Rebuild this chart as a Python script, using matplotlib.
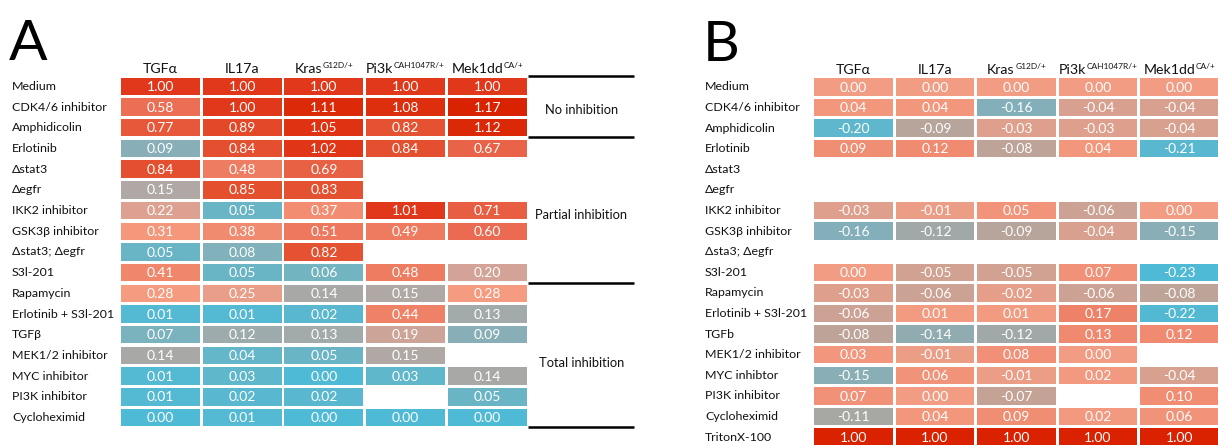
import numpy as np
import matplotlib
matplotlib.use("Agg")
import matplotlib.pyplot as plt
from matplotlib.colors import LinearSegmentedColormap, Normalize
from matplotlib.patches import Rectangle
from matplotlib.transforms import offset_copy

plt.rcParams['font.family'] = ['Lato', 'DejaVu Sans']

nan = np.nan
columns = ["TGFα", "IL17a", "Kras", "Pi3k", "Mek1dd"]
column_sups = ["", "", "G12D/+", "CAH1047R/+", "CA/+"]

rows_a = ["Medium", "CDK4/6 inhibitor", "Amphidicolin", "Erlotinib", "Δstat3", "Δegfr",
          "IKK2 inhibitor", "GSK3β inhibitor", "Δstat3; Δegfr", "S3l-201", "Rapamycin",
          "Erlotinib + S3l-201", "TGFβ", "MEK1/2 inhibitor", "MYC inhibitor",
          "PI3K inhibitor", "Cycloheximid"]
values_a = [
    [1.00, 1.00, 1.00, 1.00, 1.00],
    [0.58, 1.00, 1.11, 1.08, 1.17],
    [0.77, 0.89, 1.05, 0.82, 1.12],
    [0.09, 0.84, 1.02, 0.84, 0.67],
    [0.84, 0.48, 0.69, nan, nan],
    [0.15, 0.85, 0.83, nan, nan],
    [0.22, 0.05, 0.37, 1.01, 0.71],
    [0.31, 0.38, 0.51, 0.49, 0.60],
    [0.05, 0.08, 0.82, nan, nan],
    [0.41, 0.05, 0.06, 0.48, 0.20],
    [0.28, 0.25, 0.14, 0.15, 0.28],
    [0.01, 0.01, 0.02, 0.44, 0.13],
    [0.07, 0.12, 0.13, 0.19, 0.09],
    [0.14, 0.04, 0.05, 0.15, nan],
    [0.01, 0.03, 0.00, 0.03, 0.14],
    [0.01, 0.02, 0.02, nan, 0.05],
    [0.00, 0.01, 0.00, 0.00, 0.00],
]

rows_b = ["Medium", "CDK4/6 inhibitor", "Amphidicolin", "Erlotinib", "Δstat3", "Δegfr",
          "IKK2 inhibitor", "GSK3β inhibitor", "Δsta3; Δegfr", "S3l-201", "Rapamycin",
          "Erlotinib + S3l-201", "TGFb", "MEK1/2 inhibitor", "MYC inhibtor",
          "PI3K inhibitor", "Cycloheximid", "TritonX-100"]
values_b = [
    [0.00, 0.00, 0.00, 0.00, 0.00],
    [0.04, 0.04, -0.16, -0.04, -0.04],
    [-0.20, -0.09, -0.03, -0.03, -0.04],
    [0.09, 0.12, -0.08, 0.04, -0.21],
    [nan, nan, nan, nan, nan],
    [nan, nan, nan, nan, nan],
    [-0.03, -0.01, 0.05, -0.06, 0.00],
    [-0.16, -0.12, -0.09, -0.04, -0.15],
    [nan, nan, nan, nan, nan],
    [0.00, -0.05, -0.05, 0.07, -0.23],
    [-0.03, -0.06, -0.02, -0.06, -0.08],
    [-0.06, 0.01, 0.01, 0.17, -0.22],
    [-0.08, -0.14, -0.12, 0.13, 0.12],
    [0.03, -0.01, 0.08, 0.00, nan],
    [-0.15, 0.06, -0.01, 0.02, -0.04],
    [0.07, 0.00, -0.07, nan, 0.10],
    [-0.11, 0.04, 0.09, 0.02, 0.06],
    [1.00, 1.00, 1.00, 1.00, 1.00],
]

groups_a = ["No inhibition", "Partial inhibition", "Total inhibition"]

# colour scales
stops_a = [(0.00, "#4EBAD5"), (0.05, "#6CB5C4"), (0.09, "#8AAFB7"), (0.14, "#AAA9A6"),
           (0.20, "#D4A395"), (0.28, "#F59B80"), (0.45, "#EF8064"), (0.60, "#EA6B52"),
           (0.84, "#E4502F"), (1.00, "#E1381B"), (1.17, "#D92300")]
stops_b = [(-0.23, "#4EBAD5"), (-0.20, "#5FB7CD"), (-0.16, "#84AFB8"), (-0.12, "#A3A8A5"),
           (-0.08, "#BEA398"), (-0.04, "#D9A08E"), (0.00, "#F39C82"), (0.17, "#EE8268"),
           (1.00, "#DA2200")]


def make_cmap(stops):
    lo, hi = stops[0][0], stops[-1][0]
    cm = LinearSegmentedColormap.from_list(
        "c", [((v - lo) / (hi - lo), c) for v, c in stops])
    return cm, Normalize(lo, hi)


W, H = 1218, 445
fig = plt.figure(figsize=(W / 100, H / 100), dpi=100)
renderer = fig.canvas.get_renderer()


def make_ax(x0, xp, y0, yp):
    ax = fig.add_axes([0, 0, 1, 1])
    ax.set_xlim((0 - x0) / xp, (W - x0) / xp)
    ax.set_ylim((H - y0) / yp, (0 - y0) / yp)
    ax.axis("off")
    ax.patch.set_alpha(0)
    return ax


def header(ax, x, y, base, sup, fs=10.2, sfs=6.0, raise_px=5.0):
    t1 = ax.text(x, y, base, ha="left", va="baseline", fontsize=fs, color="#111111")
    w1 = t1.get_window_extent(renderer).width
    if sup:
        t2 = ax.text(x, y, sup, ha="left", va="baseline", fontsize=sfs, color="#111111")
        w2 = t2.get_window_extent(renderer).width
    else:
        t2, w2 = None, 0.0
    total = w1 + w2 + (0.5 if sup else 0)
    t1.set_transform(offset_copy(ax.transData, fig, x=-total / 2, y=0, units="dots"))
    if t2 is not None:
        t2.set_transform(offset_copy(ax.transData, fig, x=-total / 2 + w1 + 0.5,
                                     y=raise_px, units="dots"))


def draw_panel(ax, rows, values, stops, label_x, letter, letter_x):
    cm, norm = make_cmap(stops)
    cw, ch = 0.965, 0.84
    for i, r in enumerate(rows):
        ax.text(label_x, i, r, ha="left", va="center", fontsize=8.9, color="#111111")
        for j, v in enumerate(values[i]):
            if np.isnan(v):
                continue
            ax.add_patch(Rectangle((j - cw / 2, i - ch / 2), cw, ch,
                                   facecolor=cm(norm(v)), edgecolor="none"))
            ax.text(j, i + 0.03, f"{v:.2f}", ha="center", va="center",
                    fontsize=10, color="white")
    for j, (c, s) in enumerate(zip(columns, column_sups)):
        header(ax, j, -0.63, c, s)
    ax.text(letter_x, -1.25, letter, ha="left", va="baseline", fontsize=41, color="black")


ax_a = make_ax(160.5, 81.7, 86.35, 20.7)
draw_panel(ax_a, rows_a, values_a, stops_a, (12 - 160.5) / 81.7, "A", (9 - 160.5) / 81.7)
for y in [-0.5, 2.45, 9.5, 16.45]:
    ax_a.plot([4.5, 5.8], [y, y], color="black", lw=1.8, solid_capstyle="butt")
for g, y in zip(groups_a, [1.15, 6.2, 13.35]):
    ax_a.text(5.15, y, g, ha="center", va="center", fontsize=9.3, color="#111111")

ax_b = make_ax(853.5, 81.5, 86.9, 20.6)
draw_panel(ax_b, rows_b, values_b, stops_b, (705 - 853.5) / 81.5, "B", (703 - 853.5) / 81.5)

fig.savefig("out.png", dpi=100)
